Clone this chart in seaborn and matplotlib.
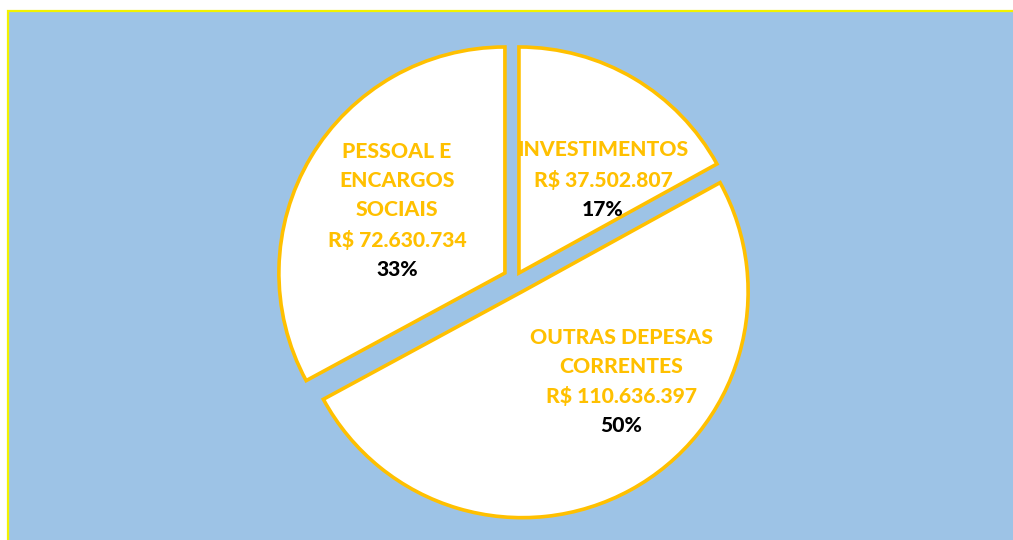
import matplotlib
matplotlib.use("Agg")
import matplotlib.pyplot as plt
import matplotlib.patches as mpatches
import seaborn as sns

# ---- data ----
categories = ["INVESTIMENTOS", "OUTRAS DEPESAS\nCORRENTES", "PESSOAL E\nENCARGOS\nSOCIAIS"]
values = [37502807, 110636397, 72630734]

sns.set_theme(style="white")
plt.rcParams['font.family'] = ['Lato', 'DejaVu Sans']

GOLD = "#FFC000"
BLUE = "#9DC3E6"

W, H = 1013, 540
fig = plt.figure(figsize=(W / 100, H / 100), dpi=100, facecolor="white")
ax = fig.add_axes([0, 0, 1, 1])

# background panel (pixel coordinates, y up)
bg = mpatches.Rectangle((8, -20), 1030, H - 11 + 20, facecolor=BLUE,
                        edgecolor="#F2F200", linewidth=1.6, zorder=0)
ax.add_patch(bg)

R = 226
cx, cy = 515.3, H - 279.2
wedges, _ = ax.pie(values, center=(cx, cy), radius=R, startangle=90,
                   counterclock=False, explode=[7.2, 14.2, 12.1],
                   colors=["white"] * 3,
                   wedgeprops=dict(edgecolor=GOLD, linewidth=2.6, joinstyle="miter"))
for w in wedges:
    w.set_zorder(2)

ax.set_xlim(0, W)
ax.set_ylim(0, H)
ax.set_aspect("equal")
ax.axis("off")

total = sum(values)
label_pos = [(603, 150), (621, 337), (397, 151)]
step = 29.5
fs = 15.2
for cat, v, (lx, ly) in zip(categories, values, label_pos):
    lines = cat.split("\n") + ["R$ " + f"{v:,}".replace(",", ".")]
    for i, ln in enumerate(lines):
        ax.text(lx, H - (ly + i * step), ln, ha="center", va="center",
                color=GOLD, fontsize=fs, fontweight=900, zorder=5)
    pct = f"{round(100 * v / total)}%"
    ax.text(lx, H - (ly + len(lines) * step), pct, ha="center", va="center",
            color="black", fontsize=fs, fontweight=900, zorder=5)

fig.savefig("out.png", dpi=100, facecolor="white")
